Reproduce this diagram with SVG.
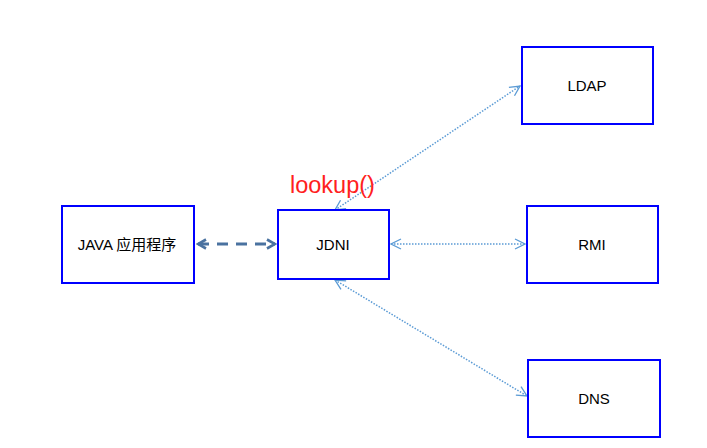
<svg xmlns="http://www.w3.org/2000/svg" width="707" height="448" viewBox="0 0 707 448">
<defs>
<style>
.box{fill:#fff;stroke:#0000ff;stroke-width:2}
.lbl{font-family:"Liberation Sans","Noto Sans CJK SC",sans-serif;font-size:15px;fill:#000;text-anchor:middle;dominant-baseline:central}
.dot{stroke:#5b9bd5;stroke-width:1.5;stroke-dasharray:1.5 1.5;fill:none}
</style>
<marker id="ah" viewBox="0 0 12 12" refX="11" refY="6" markerWidth="12" markerHeight="12" markerUnits="userSpaceOnUse" orient="auto-start-reverse">
<path d="M1,1 L11,6 L1,11" fill="none" stroke="#5b9bd5" stroke-width="1.3"/>
</marker>
<marker id="ah2" viewBox="0 0 12 12" refX="10" refY="6" markerWidth="12" markerHeight="12" markerUnits="userSpaceOnUse" orient="auto-start-reverse">
<path d="M2,1.5 L10,6 L2,10.5" fill="none" stroke="#4a72a0" stroke-width="2.6"/>
</marker>
</defs>
<rect width="707" height="448" fill="#fff"/>
<g id="connectors">
<line x1="198" y1="244" x2="275" y2="244" stroke="#4a72a0" stroke-width="3" stroke-dasharray="11 8" marker-start="url(#ah2)" marker-end="url(#ah2)"/>
<line class="dot" x1="335" y1="210" x2="520" y2="86" marker-start="url(#ah)" marker-end="url(#ah)"/>
<line class="dot" x1="391" y1="244" x2="525" y2="244" marker-start="url(#ah)" marker-end="url(#ah)"/>
<line class="dot" x1="335" y1="280" x2="527" y2="396" marker-start="url(#ah)" marker-end="url(#ah)"/>
</g>
<g id="java"><rect class="box" x="62" y="206" width="132" height="77"/><text class="lbl" x="127" y="244">JAVA 应用程序</text></g>
<g id="jdni"><rect class="box" x="278" y="210" width="111" height="69"/><text class="lbl" x="333" y="244">JDNI</text></g>
<g id="ldap"><rect class="box" x="522" y="47" width="131" height="77"/><text class="lbl" x="587" y="85">LDAP</text></g>
<g id="rmi"><rect class="box" x="527" y="206" width="131" height="77"/><text class="lbl" x="592" y="244">RMI</text></g>
<g id="dns"><rect class="box" x="528" y="360" width="132" height="77"/><text class="lbl" x="594" y="398">DNS</text></g>
<text x="290" y="193" font-family="Liberation Sans,sans-serif" font-size="23.5" fill="#ff2020">lookup()</text>
</svg>
